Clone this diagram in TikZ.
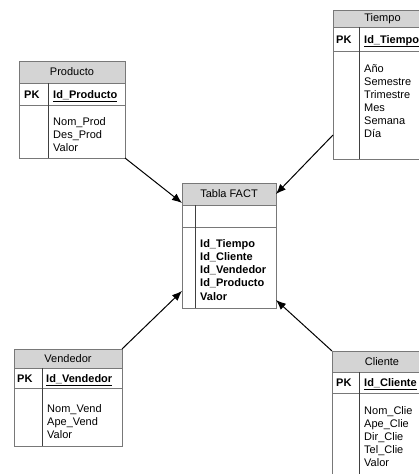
\documentclass[tikz,border=0pt]{standalone}
\usepackage{fontspec}
\setmainfont{Liberation Sans}
\usetikzlibrary{arrows.meta}
\definecolor{bord}{RGB}{120,120,120}
\definecolor{hdrgray}{RGB}{212,212,212}
\tikzset{
  tbox/.style={draw=bord, line width=0.8pt, inner sep=0pt, outer sep=0pt, anchor=north west, font=\fontsize{11}{13}\selectfont},
  hdr/.style={tbox, fill=hdrgray},
  txt/.style={inner sep=0pt, anchor=base west, font=\fontsize{11}{13}\selectfont},
  divline/.style={draw=black!75, line width=0.8pt},
  rel/.style={draw=black, line width=1pt, -{Latex[length=10pt,width=8pt]}}
}
\begin{document}
\begin{tikzpicture}[x=1pt,y=-1pt]
\useasboundingbox (0,0) rectangle (419,474);
\clip (0,0) rectangle (419,474);
% ---------- Producto ----------
\node[hdr, minimum width=106pt, minimum height=22pt] (prodH) at (19,61) {Producto};
\node[tbox, minimum width=106pt, minimum height=22pt] (prodK) at (19,83) {};
\node[tbox, minimum width=106pt, minimum height=53pt] (prodB) at (19,105) {};
\draw[divline] (48,83) -- (48,158);
\node[txt] (prodPK) at (24,98) {\textbf{PK}};
\node[txt] (prodId) at (53,98) {\underline{\textbf{Id\_Producto}}};
\foreach \t [count=\i] in {Nom\_Prod, Des\_Prod, Valor}
  \node[txt] (prodT\i) at (53,112+13*\i) {\t};
% ---------- Tiempo ----------
\node[hdr, minimum width=99pt, minimum height=17pt] (tiemH) at (333,10) {Tiempo};
\node[tbox, minimum width=99pt, minimum height=24pt] (tiemK) at (333,27) {};
\node[tbox, minimum width=99pt, minimum height=108pt] (tiemB) at (333,51) {};
\draw[divline] (359,27) -- (359,159);
\node[txt] (tiemPK) at (336,43) {\textbf{PK}};
\node[txt] (tiemId) at (364,43) {\underline{\textbf{Id\_Tiempo}}};
\foreach \t [count=\i] in {Año, Semestre, Trimestre, Mes, Semana, Día}
  \node[txt] (tiemT\i) at (364,59+13*\i) {\t};
% ---------- Tabla FACT ----------
\node[hdr, minimum width=94pt, minimum height=22pt] (factH) at (182,183) {Tabla FACT};
\node[tbox, minimum width=94pt, minimum height=22pt] (factK) at (182,205) {};
\node[tbox, minimum width=94pt, minimum height=81pt] (factB) at (182,227) {};
\draw[divline] (195,205) -- (195,308);
\foreach \t [count=\i] in {Id\_Tiempo, Id\_Cliente, Id\_Vendedor, Id\_Producto, Valor}
  \node[txt] (factT\i) at (200,233.8+13.25*\i) {\textbf{\t}};
% ---------- Vendedor ----------
\node[hdr, minimum width=108pt, minimum height=19pt] (vendH) at (14,349) {Vendedor};
\node[tbox, minimum width=108pt, minimum height=20pt] (vendK) at (14,368) {};
\node[tbox, minimum width=108pt, minimum height=58pt] (vendB) at (14,388) {};
\draw[divline] (42,368) -- (42,446);
\node[txt] (vendPK) at (17,382) {\textbf{PK}};
\node[txt] (vendId) at (46,382) {\underline{\textbf{Id\_Vendedor}}};
\foreach \t [count=\i] in {Nom\_Vend, Ape\_Vend, Valor}
  \node[txt] (vendT\i) at (47,399+13*\i) {\t};
% ---------- Cliente ----------
\node[hdr, minimum width=100pt, minimum height=21pt] (clieH) at (332,351) {Cliente};
\node[tbox, minimum width=100pt, minimum height=21pt] (clieK) at (332,372) {};
\node[tbox, minimum width=100pt, minimum height=100pt] (clieB) at (332,393) {};
\draw[divline] (359,372) -- (359,493);
\node[txt] (cliePK) at (336,386) {\textbf{PK}};
\node[txt] (clieId) at (364,386) {\underline{\textbf{Id\_Cliente}}};
\foreach \t [count=\i] in {Nom\_Clie, Ape\_Clie, Dir\_Clie, Tel\_Clie, Valor}
  \node[txt] (clieT\i) at (364,401+13*\i) {\t};
% ---------- relations ----------
\draw[rel] (prodB.south east) -- ([yshift=2pt]factH.south west);
\draw[rel] ([yshift=24pt]tiemB.south west) -- (factH.east);
\draw[rel] (vendH.north east) -- ([yshift=17pt]factB.south west);
\draw[rel] (clieH.north west) -- ([yshift=8pt]factB.south east);
\end{tikzpicture}
\end{document}
